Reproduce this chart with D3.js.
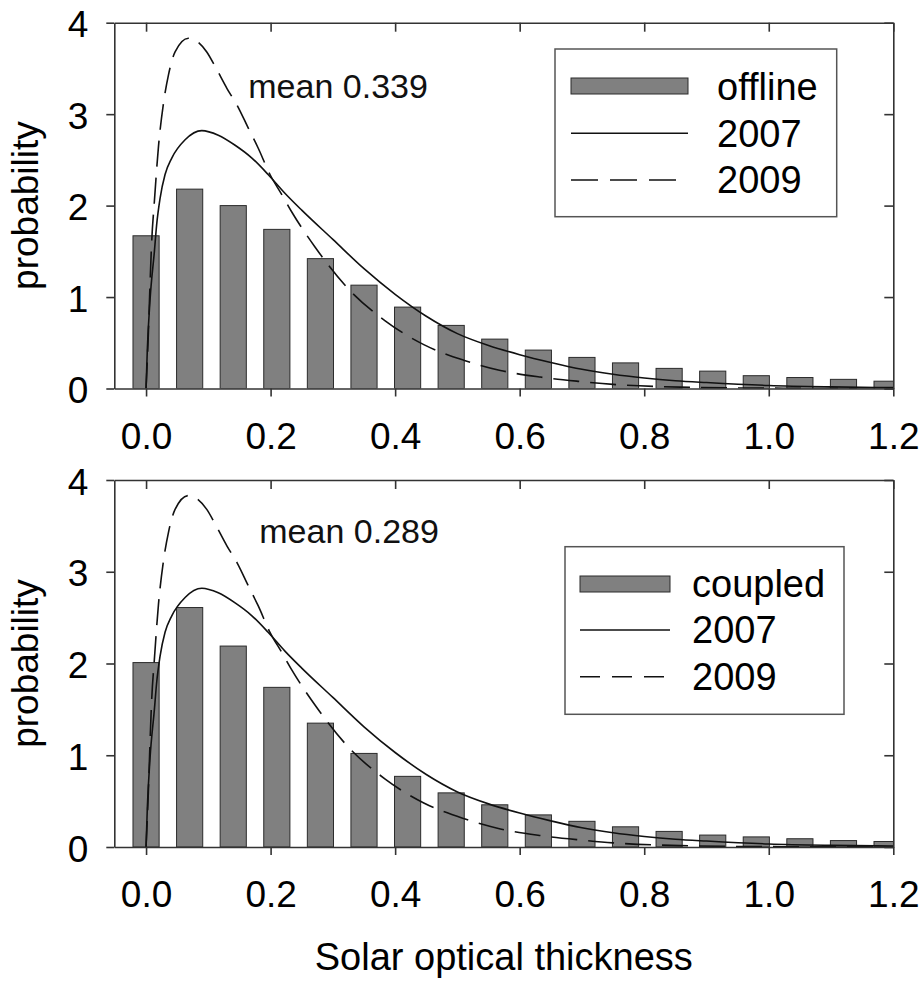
<!DOCTYPE html>
<html>
<head>
<meta charset="utf-8">
<script src="https://cdn.jsdelivr.net/npm/d3@7"></script>
<style>
  html, body { margin: 0; padding: 0; background: #fff; }
  svg { display: block; font-family: "Liberation Sans", Arial, Helvetica, sans-serif; }
</style>
</head>
<body>
<svg id="chart" width="923" height="983"></svg>
<script>
// ---------------- data ----------------
const binCenters = [0.00, 0.07, 0.14, 0.21, 0.28, 0.35, 0.42, 0.49, 0.56, 0.63, 0.70, 0.77, 0.84, 0.91, 0.98, 1.05, 1.12, 1.19];
const binWidth = 0.07;

const offlineValues = [1.67, 2.18, 2.00, 1.74, 1.42, 1.13, 0.89, 0.69, 0.54, 0.42, 0.34, 0.28, 0.22, 0.19, 0.14, 0.12, 0.10, 0.08];
const coupledValues = [2.01, 2.61, 2.19, 1.74, 1.35, 1.02, 0.77, 0.59, 0.46, 0.35, 0.28, 0.22, 0.17, 0.13, 0.11, 0.09, 0.07, 0.06];

const curve2007X = [0, 0.002, 0.0064, 0.0134, 0.017, 0.0225, 0.0305, 0.0413, 0.0627, 0.0895, 0.116, 0.143, 0.17, 0.196, 0.223, 0.25, 0.30, 0.35, 0.40, 0.45, 0.50, 0.55, 0.60, 0.65, 0.70, 0.75, 0.80, 0.85, 0.90, 1.0, 1.1, 1.2];
const curve2007Y = [0, 0.42, 0.97, 1.50, 1.79, 2.08, 2.34, 2.52, 2.72, 2.82, 2.77, 2.66, 2.52, 2.34, 2.135, 1.95, 1.63, 1.31, 1.03, 0.79, 0.60, 0.47, 0.37, 0.285, 0.21, 0.155, 0.115, 0.085, 0.065, 0.033, 0.018, 0.01];

const curve2009X = [0, 0.0037, 0.0064, 0.009, 0.0134, 0.020, 0.028, 0.036, 0.0466, 0.068, 0.0975, 0.111, 0.130, 0.146, 0.164, 0.180, 0.199, 0.218, 0.234, 0.271, 0.322, 0.384, 0.446, 0.51, 0.569, 0.633, 0.697, 0.75, 0.858, 1.0, 1.2];
const curve2009Y = [0, 0.6, 1.15, 1.6, 2.05, 2.65, 3.12, 3.43, 3.68, 3.83, 3.68, 3.52, 3.28, 3.10, 2.85, 2.63, 2.34, 2.12, 1.93, 1.55, 1.11, 0.74, 0.48, 0.31, 0.197, 0.125, 0.077, 0.045, 0.015, 0.004, 0.001];

const xTicks = [0, 0.2, 0.4, 0.6, 0.8, 1.0, 1.2];
const yTicks = [0, 1, 2, 3, 4];
const seriesNames = ["offline", "coupled"];
const curveNames = ["2007", "2009"];
const meanLabels = ["mean 0.339", "mean 0.289"];
const yLabel = "probability";
const xTitle = "Solar optical thickness";

// ---------------- layout ----------------
const svg = d3.select("#chart");
const plotLeft = 114.3, plotRight = 893.3;
const panels = [
  { top: 22.7, bottom: 388.5, values: offlineValues, name: seriesNames[0], mean: meanLabels[0],
    meanPos: [248.3, 98.3],
    legend: { box: [555, 49, 836.7, 216.7], sw: [571, 688], rows: [86, 133.3, 180], textX: 717, base: [100, 146.7, 193.3], dash: "27,12" } },
  { top: 480, bottom: 847, values: coupledValues, name: seriesNames[1], mean: meanLabels[1],
    meanPos: [259.3, 543.3],
    legend: { box: [565, 546.7, 844, 714.3], sw: [580, 670], rows: [584, 630, 676.7], textX: 692, base: [596.7, 643.3, 690], dash: "20,12" } }
];

const x = d3.scaleLinear().domain([-0.051, 1.2]).range([plotLeft, plotRight]);
const barW = x(binWidth * 0.6) - x(0);
const frameColor = "#333";

panels.forEach((p, i) => {
  const y = d3.scaleLinear().domain([0, 4]).range([p.bottom, p.top]);
  const g = svg.append("g");
  const clipId = "clip" + i;
  svg.append("defs").append("clipPath").attr("id", clipId)
    .append("rect").attr("x", plotLeft).attr("y", p.top)
    .attr("width", plotRight - plotLeft).attr("height", p.bottom - p.top);

  const plot = g.append("g").attr("clip-path", `url(#${clipId})`);

  // bars
  plot.selectAll("rect.bar").data(p.values).enter().append("rect")
    .attr("class", "bar")
    .attr("x", (d, k) => x(binCenters[k]) - barW / 2)
    .attr("width", barW)
    .attr("y", d => y(d))
    .attr("height", d => y(0) - y(d))
    .attr("fill", "#808080")
    .attr("stroke", "#2b2b2b")
    .attr("stroke-width", 1);

  const line = d3.line().x(d => x(d[0])).y(d => y(d[1])).curve(d3.curveMonotoneX);
  const c07 = curve2007X.map((v, k) => [v, curve2007Y[k]]);
  const c09 = curve2009X.map((v, k) => [v, curve2009Y[k]]);

  plot.append("path").datum(c07).attr("d", line)
    .attr("fill", "none").attr("stroke", "#111").attr("stroke-width", 1.6);
  plot.append("path").datum(c09).attr("d", line)
    .attr("fill", "none").attr("stroke", "#111").attr("stroke-width", 1.6)
    .attr("stroke-dasharray", "26,11");

  // axes
  const ax = (sel) => sel.selectAll(".domain, .tick line").attr("stroke", frameColor).attr("stroke-width", 1.6);
  g.append("g").attr("transform", `translate(0,${p.bottom})`)
    .call(d3.axisBottom(x).tickValues(xTicks).tickSize(8).tickSizeOuter(0).tickPadding(26).tickFormat(d3.format(".1f")))
    .call(ax)
    .call(s => s.selectAll("text").attr("font-size", 37).attr("fill", "#000")
      .attr("font-family", '"Liberation Sans", Arial, sans-serif'));
  g.append("g").attr("transform", `translate(0,${p.top})`)
    .call(d3.axisTop(x).tickValues(xTicks).tickSize(-9).tickSizeOuter(0).tickFormat(""))
    .call(ax);
  g.append("g").attr("transform", `translate(${plotLeft},0)`)
    .call(d3.axisLeft(y).tickValues(yTicks).tickSize(8).tickSizeOuter(0).tickPadding(18).tickFormat(d3.format("d")))
    .call(ax)
    .call(s => s.selectAll("text").attr("font-size", 37).attr("fill", "#000").attr("dy", "0.38em")
      .attr("font-family", '"Liberation Sans", Arial, sans-serif'));
  g.append("g").attr("transform", `translate(${plotRight},0)`)
    .call(d3.axisRight(y).tickValues(yTicks).tickSize(-9).tickSizeOuter(0).tickFormat(""))
    .call(ax);

  // mean label
  g.append("text").attr("x", p.meanPos[0]).attr("y", p.meanPos[1])
    .attr("font-size", 34).attr("fill", "#111").text(p.mean);

  // y label
  g.append("text")
    .attr("transform", `translate(38.3,${(p.top + p.bottom) / 2}) rotate(-90)`)
    .attr("text-anchor", "middle").attr("font-size", 37).attr("fill", "#000")
    .text(yLabel);

  // legend
  const L = p.legend;
  g.append("rect").attr("x", L.box[0]).attr("y", L.box[1])
    .attr("width", L.box[2] - L.box[0]).attr("height", L.box[3] - L.box[1])
    .attr("fill", "#fff").attr("stroke", "#555").attr("stroke-width", 1.5);
  g.append("rect").attr("x", L.sw[0]).attr("y", L.rows[0] - 8)
    .attr("width", L.sw[1] - L.sw[0]).attr("height", 16)
    .attr("fill", "#808080").attr("stroke", "#2b2b2b").attr("stroke-width", 1);
  g.append("line").attr("x1", L.sw[0]).attr("x2", L.sw[1]).attr("y1", L.rows[1]).attr("y2", L.rows[1])
    .attr("stroke", "#111").attr("stroke-width", 1.6);
  g.append("line").attr("x1", L.sw[0]).attr("x2", L.sw[1]).attr("y1", L.rows[2]).attr("y2", L.rows[2])
    .attr("stroke", "#111").attr("stroke-width", 1.6).attr("stroke-dasharray", L.dash);
  [p.name, curveNames[0], curveNames[1]].forEach((t, k) => {
    g.append("text").attr("x", L.textX).attr("y", L.base[k])
      .attr("font-size", 38).attr("fill", "#000").text(t);
  });
});

// x title
svg.append("text").attr("x", (plotLeft + plotRight) / 2).attr("y", 970)
  .attr("text-anchor", "middle").attr("font-size", 38).attr("fill", "#000")
  .text(xTitle);
</script>
</body>
</html>
